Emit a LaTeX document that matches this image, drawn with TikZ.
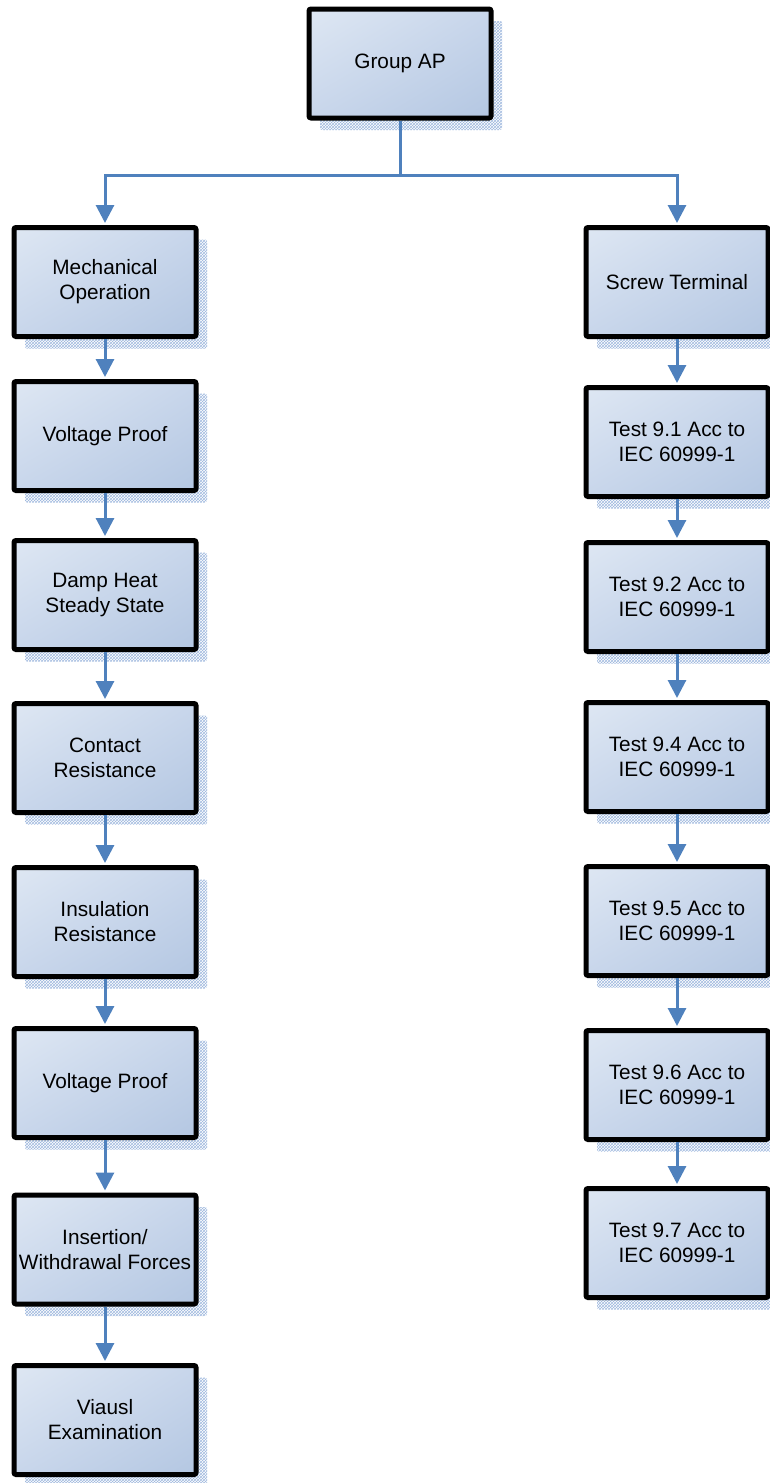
\documentclass[tikz,border=0pt]{standalone}
\usepackage{fontspec}
\setmainfont{Liberation Sans}
\usetikzlibrary{arrows.meta,shadows,patterns,shadings}
\definecolor{conncol}{RGB}{79,129,189}
\definecolor{boxUL}{RGB}{222,231,243}
\definecolor{boxLR}{RGB}{180,199,226}
\definecolor{boxMid}{RGB}{200,214,235}
\definecolor{shadowcol}{RGB}{160,185,222}
\tikzset{
  stepbox/.style={draw=black, line width=5pt, rounded corners=2pt,
    minimum width=182pt, minimum height=109pt, inner sep=0pt,
    align=center, font=\fontsize{20.8}{25}\selectfont,
    upper left=boxUL, lower right=boxLR, upper right=boxMid, lower left=boxMid,
    general shadow={shadow xshift=11pt, shadow yshift=-12pt, draw=none,
      pattern=crosshatch, pattern color=shadowcol}},
  conn/.style={draw=conncol, line width=3pt,
    -{Triangle[width=18pt,length=18pt]}, shorten >=2pt},
  plain/.style={draw=conncol, line width=3pt}
}
\begin{document}
\begin{tikzpicture}[x=1pt,y=-1pt]
\useasboundingbox (0,0) rectangle (770,1483);
\node[stepbox] (g) at (400,63.5) {Group AP};
% left column
\node[stepbox] (l1) at (105,282) {Mechanical\\Operation};
\node[stepbox] (l2) at (105,436) {Voltage Proof};
\node[stepbox] (l3) at (105,595) {Damp Heat\\Steady State};
\node[stepbox] (l4) at (105,758) {Contact\\Resistance};
\node[stepbox] (l5) at (105,922) {Insulation\\Resistance};
\node[stepbox] (l6) at (105,1083) {Voltage Proof};
\node[stepbox] (l7) at (105,1249.5) {Insertion/\\Withdrawal Forces};
\node[stepbox] (l8) at (105,1420) {Viausl\\Examination};
% right column
\node[stepbox] (r1) at (677,282) {Screw Terminal};
\node[stepbox] (r2) at (677,442) {Test 9.1 Acc to\\IEC 60999-1};
\node[stepbox] (r3) at (677,597) {Test 9.2 Acc to\\IEC 60999-1};
\node[stepbox] (r4) at (677,757) {Test 9.4 Acc to\\IEC 60999-1};
\node[stepbox] (r5) at (677,921) {Test 9.5 Acc to\\IEC 60999-1};
\node[stepbox] (r6) at (677,1085) {Test 9.6 Acc to\\IEC 60999-1};
\node[stepbox] (r7) at (677,1243) {Test 9.7 Acc to\\IEC 60999-1};
% connectors
\coordinate (j) at (400,175);
\draw[plain] (g.south) -- (j);
\draw[conn] (j) -| (l1.north);
\draw[conn] (j) -| (r1.north);
\foreach \a/\b in {l1/l2,l2/l3,l3/l4,l4/l5,l5/l6,l6/l7,l7/l8,r1/r2,r2/r3,r3/r4,r4/r5,r5/r6,r6/r7}
  \draw[conn] (\a.south) -- (\b.north);
\end{tikzpicture}
\end{document}
